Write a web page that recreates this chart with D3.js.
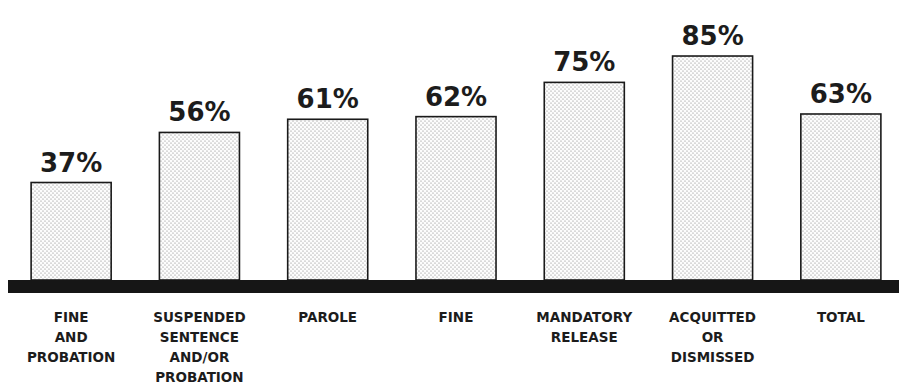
<!DOCTYPE html>
<html>
<head>
<meta charset="utf-8">
<script src="https://cdn.jsdelivr.net/npm/d3@7/dist/d3.min.js"></script>
<style>
  html, body { margin: 0; padding: 0; background: #fff; }
  svg { display: block; }
  text { font-family: "DejaVu Sans", sans-serif; font-weight: bold; fill: #1c1c1c; }
</style>
</head>
<body>
<svg id="chart" width="899" height="385"></svg>
<script>
// Share of each group, in percent
const categories = [
  ["FINE", "AND", "PROBATION"],
  ["SUSPENDED", "SENTENCE", "AND/OR", "PROBATION"],
  ["PAROLE"],
  ["FINE"],
  ["MANDATORY", "RELEASE"],
  ["ACQUITTED", "OR", "DISMISSED"],
  ["TOTAL"]
];
const values = [37, 56, 61, 62, 75, 85, 63];
const valueLabels = ["37%", "56%", "61%", "62%", "75%", "85%", "63%"];

const width = 899, height = 385;
const baseY = 280;
const svg = d3.select("#chart");

const keys = categories.map(c => c.join(" "));
const x = d3.scaleBand()
  .domain(keys)
  .range([7, 905])
  .paddingInner(0.376)
  .paddingOuter(0.188);

const y = d3.scaleLinear()
  .domain([0, 100])
  .range([baseY, baseY - 263.5]);

// Stipple fill used inside the bars
const defs = svg.append("defs");
const pat = defs.append("pattern")
  .attr("id", "stipple")
  .attr("patternUnits", "userSpaceOnUse")
  .attr("width", 4).attr("height", 4);
pat.append("rect").attr("width", 4).attr("height", 4).attr("fill", "#fdfdfd");
pat.append("circle").attr("cx", 1).attr("cy", 1).attr("r", 0.6).attr("fill", "#7a7a7a");
pat.append("circle").attr("cx", 3).attr("cy", 3).attr("r", 0.6).attr("fill", "#7a7a7a");

const data = values.map((v, i) => ({ key: keys[i], lines: categories[i], value: v, label: valueLabels[i] }));

// Bars
svg.append("g").selectAll("rect")
  .data(data)
  .join("rect")
  .attr("x", d => x(d.key))
  .attr("y", d => y(d.value))
  .attr("width", x.bandwidth())
  .attr("height", d => baseY - y(d.value))
  .attr("fill", "url(#stipple)")
  .attr("stroke", "#1a1a1a")
  .attr("stroke-width", 1.6);

// Heavy baseline
svg.append("rect")
  .attr("x", 8)
  .attr("y", baseY)
  .attr("width", width - 8)
  .attr("height", 13)
  .attr("fill", "#161616");

// Value labels above bars
svg.append("g").selectAll("text")
  .data(data)
  .join("text")
  .attr("x", d => x(d.key) + x.bandwidth() / 2)
  .attr("y", d => y(d.value) - 11)
  .attr("text-anchor", "middle")
  .style("font-size", "26px")
  .text(d => d.label);

// Category labels below the baseline
const cat = svg.append("g").selectAll("text")
  .data(data)
  .join("text")
  .attr("x", d => x(d.key) + x.bandwidth() / 2)
  .attr("y", 322)
  .attr("text-anchor", "middle")
  .style("font-size", "13.5px");
cat.selectAll("tspan")
  .data(d => d.lines.map(t => ({ t, cx: x(d.key) + x.bandwidth() / 2 })))
  .join("tspan")
  .attr("x", d => d.cx)
  .attr("dy", (d, i) => i === 0 ? 0 : 20)
  .text(d => d.t);
</script>
</body>
</html>
